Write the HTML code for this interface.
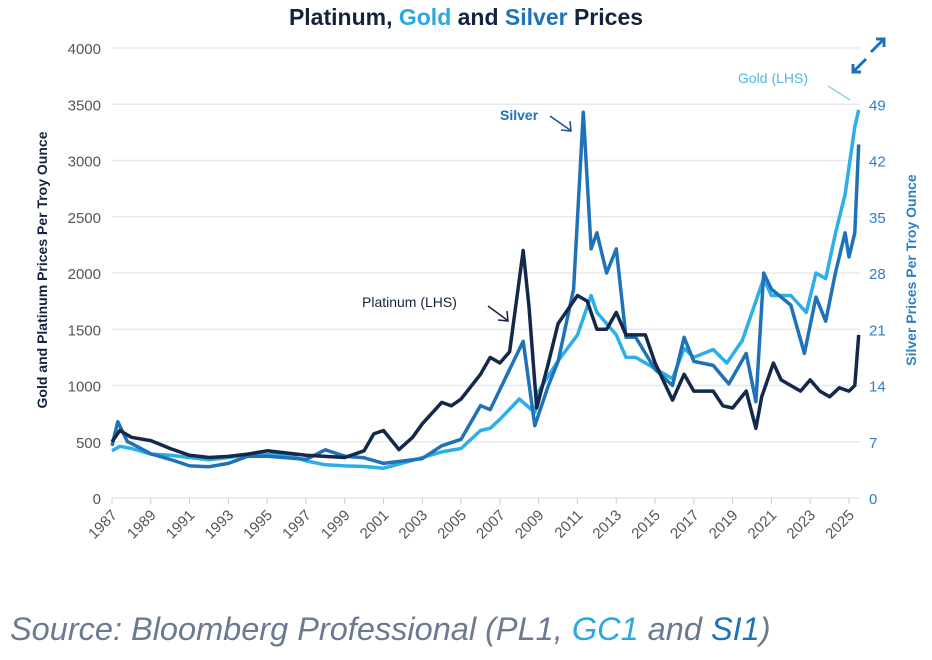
<!DOCTYPE html>
<html><head><meta charset="utf-8"><style>
body{margin:0;background:#fff;width:932px;height:655px;overflow:hidden;font-family:"Liberation Sans",sans-serif}
</style></head><body>
<svg width="932" height="655">
<text x="466" y="25" text-anchor="middle" font-size="23" font-weight="bold" fill="#14233f">Platinum, <tspan fill="#29a9df">Gold</tspan> and <tspan fill="#1f72b8">Silver</tspan> Prices</text>
<g id="grid"></g><g id="axes"></g><g id="series"></g>
<text transform="translate(47,270) rotate(-90)" text-anchor="middle" font-size="14" font-weight="bold" fill="#14233f">Gold and Platinum Prices Per Troy Ounce</text>
<text transform="translate(916,270) rotate(-90)" text-anchor="middle" font-size="14" font-weight="bold" fill="#2d7fc4">Silver Prices Per Troy Ounce</text>
<g><text x="738" y="83" font-size="14" fill="#4fb8e6">Gold (LHS)</text><line x1="828" y1="86" x2="850" y2="100" stroke="#8fd0ef" stroke-width="1.5"/></g>
<g><text x="500" y="120" font-size="14" font-weight="bold" fill="#1f72b8">Silver</text><path d="M550 116 L570 130 M570 121 L571 131 L561 130" stroke="#1f4f8a" stroke-width="1.5" fill="none"/></g>
<g><text x="362" y="307" font-size="14" fill="#14233f">Platinum (LHS)</text><path d="M488 306 L507 320 M507 311 L508 321 L498 320" stroke="#14233f" stroke-width="1.5" fill="none"/></g>
<g stroke="#1f72b8" stroke-width="3" fill="none"><path d="M871 52 L884 39 M876 39 L884 39 L884 47"/><path d="M866 59 L853 72 M853 64 L853 72 L861 72"/></g>
<text x="10" y="640" font-size="32.5" font-style="italic" fill="#6b7a8f">Source: Bloomberg Professional (PL1, <tspan fill="#29a9df">GC1</tspan> and <tspan fill="#1f72b8">SI1</tspan>)</text>
</svg>
<script>
const leftTicks=[0,500,1000,1500,2000,2500,3000,3500,4000];
const rightTicks=[0,7,14,21,28,35,42,49];
const yearTicks=[1987,1989,1991,1993,1995,1997,1999,2001,2003,2005,2007,2009,2011,2013,2015,2017,2019,2021,2023,2025];
const goldT=[1987,1987.4,1988,1989,1990,1991,1992,1993,1994,1995,1996,1997,1998,1999,2000,2001,2002,2003,2004,2005,2006,2006.5,2007,2008,2008.8,2009,2010,2011,2011.7,2012,2013,2013.5,2014,2015,2015.9,2016.5,2017,2018,2018.7,2019.5,2020.6,2021,2022,2022.8,2023.3,2023.8,2024.3,2024.8,2025.3,2025.5];
const goldV=[420,460,440,390,380,360,340,360,385,385,390,330,295,285,280,265,310,360,410,440,600,620,700,880,760,950,1220,1450,1800,1650,1450,1250,1250,1150,1060,1330,1250,1320,1200,1400,1950,1800,1800,1650,2000,1950,2350,2700,3300,3450];
const platT=[1987,1987.4,1988,1989,1990,1991,1992,1993,1994,1995,1996,1997,1998,1999,2000,2000.5,2001,2001.8,2002.5,2003,2004,2004.5,2005,2006,2006.5,2007,2007.5,2008.2,2008.5,2008.9,2009.5,2010,2011,2011.5,2012,2012.5,2013,2013.5,2014,2014.5,2015,2015.9,2016.5,2017,2018,2018.5,2019,2019.7,2020.2,2020.5,2021.1,2021.5,2022,2022.5,2023,2023.5,2024,2024.5,2025,2025.3,2025.5];
const platV=[500,600,540,510,440,380,360,370,390,420,400,380,370,360,420,570,600,430,540,660,850,820,880,1100,1250,1200,1300,2200,1700,800,1200,1550,1800,1750,1500,1500,1650,1450,1450,1450,1200,870,1100,950,950,820,800,950,620,900,1200,1050,1000,950,1050,950,900,980,950,1000,1450];
const silT=[1987,1987.3,1987.8,1988,1989,1990,1991,1992,1993,1994,1995,1996,1997,1998,1999,2000,2001,2002,2003,2004,2005,2006,2006.5,2007,2008.2,2008.8,2009.5,2010,2010.8,2011.3,2011.7,2012,2012.5,2013,2013.5,2014,2015,2015.9,2016.5,2017,2018,2018.8,2019.7,2020.2,2020.6,2021,2022,2022.7,2023.3,2023.8,2024.3,2024.8,2025,2025.3,2025.5];
const silV=[6.5,9.5,7,6.8,5.5,4.8,4,3.9,4.3,5.2,5.2,5,4.8,6,5.2,5,4.3,4.6,4.9,6.5,7.3,11.5,11,13.5,19.5,9,14,17,26,48,31,33,28,31,20,20,16,14,20,17,16.5,14.2,18,12,28,26,24,18,25,22,28,33,30,33,44];
const NS="http://www.w3.org/2000/svg";
const x0=112,x1=849,yb=498,yt=48;
const xs=t=>x0+(t-1987)*(x1-x0)/38;
const yl=v=>yb-v*(yb-yt)/4000;
const yr=v=>yb-v*(yb-yt)/56;
function mk(tag,attrs,parent,txt){const e=document.createElementNS(NS,tag);for(const k in attrs)e.setAttribute(k,attrs[k]);if(txt!==undefined)e.textContent=txt;parent.appendChild(e);return e;}
const grid=document.getElementById('grid'),axes=document.getElementById('axes'),ser=document.getElementById('series');
leftTicks.forEach(v=>{
 const l=mk('line',{x1:x0,x2:860,y1:yl(v),y2:yl(v),stroke:'#e6e8eb','stroke-width':1.5},grid);
 
 
 const t=mk('text',{x:101,y:yl(v)+6,'text-anchor':'end','font-size':15,fill:'#555'},axes,v);
 
 
});
rightTicks.forEach(v=>{
 const t=mk('text',{x:869,y:yr(v)+6,'font-size':15,fill:'#2d7fc4'},axes,v);
 
 
});
yearTicks.forEach(y=>{
 const x=xs(y);
 const tk=mk('line',{x1:x,x2:x,y1:yb,y2:yb+6,stroke:'#ccc'},axes);
 
 
 const t=mk('text',{x:x+6,y:yb+18,'text-anchor':'end','font-size':15,fill:'#555',transform:`rotate(-45 ${x+6} ${yb+18})`},axes,y);
 
 
});
function line(T,V,yf,color,name){
 const d=T.map((t,i)=>(i?'L':'M')+xs(t).toFixed(1)+' '+yf(V[i]).toFixed(1)).join(' ');
 const p=mk('path',{d:d,fill:'none',stroke:color,'stroke-width':3.5,'stroke-linejoin':'round'},ser);
 
 
}
line(goldT,goldV,yl,'#2ab0e6','gold-line');
line(silT,silV,yr,'#1f72b8','silver-line');
line(platT,platV,yl,'#13284a','platinum-line');
</script>
</body></html>
